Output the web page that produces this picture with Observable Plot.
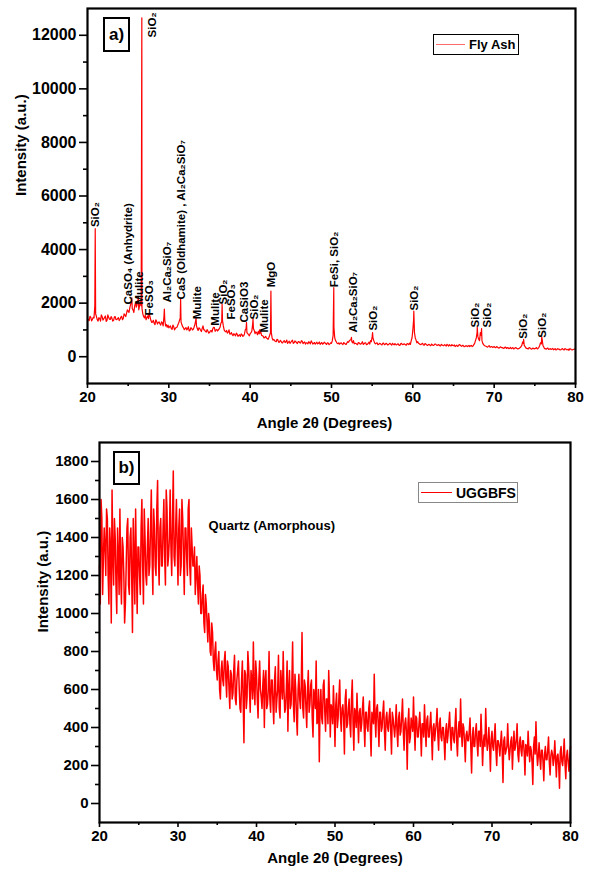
<!DOCTYPE html>
<html><head><meta charset="utf-8">
<script src="https://cdn.jsdelivr.net/npm/d3@7"></script>
<script src="https://cdn.jsdelivr.net/npm/@observablehq/plot@0.6"></script>
<style>
body{margin:0;background:#fff;}
#wrap{position:relative;width:594px;height:878px;font-family:"Liberation Sans",Arial,sans-serif;color:#000;}
.panel{position:absolute;left:0;}
.tag{position:absolute;border:2px solid #000;box-sizing:border-box;font-weight:bold;font-size:17px;display:flex;align-items:center;justify-content:center;background:#fff;}
.leg{position:absolute;box-sizing:border-box;display:flex;align-items:center;font-weight:bold;background:#fff;white-space:nowrap;}
.leg .ln{display:inline-block;height:0;}
</style></head><body><div id="wrap"></div>
<script>
// ---------- Panel a) Fly Ash ----------
// intensities read at 20.0, 20.2, ... 80.0
const flyAshBaseline = [
 1420,1350,1480,1390,1450, 1600,1380,1460,1330,1500, 1410,1520,1360,1470,1390, 1440,1350,1500,1380,1460,
 1400,1510,1430,1560,1620, 1700,1820,2050,1750,1900, 1850,2100,1900,1900,1600, 1450,1380,1520,1600,1350,
 1300,1250,1380,1220,1300, 1180,1260,1500,1150,1100, 1080,1150,1020,1120,1060, 1100,1250,1450,1200,1080,
 1050,1000,1120,980,1060, 1020,1200,1150,980,1050, 940,1150,1000,920,960, 900,980,1040,1090,1000,
 960,1050,1250,1350,1000, 930,880,1000,850,820, 860,780,840,800,760, 820,780,1000,900,820,
 860,950,1050,860,900, 950,880,800,760,720, 700,650,800,900,620, 600,560,630,540,580,
 520,600,560,500,580, 540,620,520,560,490, 560,510,580,530,470, 520,560,480,540,500,
 470,540,500,460,530, 490,520,460,510,480, 500,800,700,550,480, 470,520,450,500,460,
 560,600,650,520,480, 500,450,520,470,560, 480,520,460,540,600, 750,600,480,520,460,
 490,440,510,460,480, 450,500,430,470,490, 440,480,420,500,450, 470,430,480,510,600,
 1000,900,620,560,480, 450,500,430,470,420, 460,410,450,430,470, 420,450,400,440,410,
 430,460,400,420,450, 410,380,430,400,440, 390,420,380,410,400, 380,420,400,500,700,
 750,600,800,500,420, 390,360,410,370,350, 380,340,360,320,370, 340,310,360,330,300,
 350,320,290,340,310, 300,340,420,500,380, 310,290,330,280,320, 300,340,310,420,480,
 420,300,280,320,290, 270,310,280,250,300, 280,260,300,250,290, 260,240,290,250,280,
 300
];
// intensities read at 20.1, 20.3, ... 79.9
const flyAshHalf = [
 1380,1510,1340,1470,1900, 1500,1330,1420,1560,1370, 1470,1320,1560,1400,1500, 1330,1480,1390,1420,1350,
 1480,1380,1600,1500,1750, 1650,1950,1800,1650,2000, 1950,1750,2050,1800,1500, 1550,1460,1420,1480,1280,
 1360,1200,1320,1280,1230, 1300,1150,1380,1200,1180, 1120,1050,1180,1000,1090, 1180,1350,1300,1120,1010,
 1090,1040,960,1080,1000, 1100,1350,1050,1080,990, 1060,1000,940,1010,880, 960,920,1100,950,1020,
 1000,1100,1300,1150,950, 980,920,840,900,790, 820,880,760,820,850, 760,850,1050,860,780,
 900,1200,980,930,820, 850,940,780,700,760, 680,720,900,700,650, 580,650,540,610,520,
 580,530,620,540,500, 580,500,590,530,560, 520,600,490,550,520, 480,530,590,470,530,
 510,480,550,500,470, 540,480,520,450,520, 600,1100,600,500,520, 500,480,530,470,520,
 540,620,560,600,500, 470,530,480,510,460, 520,450,500,470,560, 700,520,500,450,500,
 460,500,450,500,440, 480,460,500,440,460, 470,430,480,460,480, 440,490,450,460,700,
 1400,700,520,500,460, 480,440,490,440,450, 430,470,420,470,440, 440,410,460,420,450,
 400,430,450,400,420, 440,410,390,450,410, 420,370,410,380,420, 410,380,450,600,900,
 650,900,600,450,400, 370,400,350,380,360, 350,380,330,350,340, 320,350,310,340,320,
 300,340,310,330,290, 320,380,550,420,330, 300,340,300,310,290, 320,290,350,520,650,
 360,300,310,270,300, 290,260,300,270,280, 250,290,270,300,260, 280,300,260,270,290
];
const flyAshPeakAngles = [20.95, 25.45, 25.95, 26.25, 26.68, 27.55, 29.45, 31.45, 33.35, 36.55, 39.55, 40.35, 41.15, 42.55, 50.28, 52.45, 55.05, 60.12, 67.92, 68.45, 73.62, 75.85];
const flyAshPeakHeights = [4780, 2200, 2000, 2250, 12650, 1620, 1780, 2150, 1460, 1960, 1280, 1420, 1000, 2450, 2580, 720, 900, 1700, 1100, 1050, 650, 740];

const phaseNames = ["SiO₂","CaSO₄ (Anhydrite)","Mulite","SiO₂","FeSO₃","Al₂Ca₂SiO₇","CaS (Oldhamite) , Al₂Ca₂SiO₇","Mulite","Mulite","SiO₂","FeSO₃","CaSiO3","SiO₂","Mulite","MgO","FeSi, SiO₂","Al₂Ca₂SiO₇","SiO₂","SiO₂","SiO₂","SiO₂","SiO₂","SiO₂"];
const phaseAngles = [20.98, 24.98, 26.31, 27.96, 27.66, 29.87, 31.52, 33.56, 35.74, 36.68, 37.67, 39.30, 40.45, 41.68, 42.59, 50.37, 52.67, 55.20, 60.21, 67.71, 69.15, 73.57, 75.98];
const phaseLabelBase = [4840, 1950, 1950, 11920, 1540, 2025, 2140, 1400, 1160, 1950, 1390, 1275, 1390, 900, 2590, 2590, 900, 975, 1725, 1090, 1090, 675, 712];

const xTicks = [20, 30, 40, 50, 60, 70, 80];
const xMinorTicks = [25, 35, 45, 55, 65, 75];
const yTicksA = [0, 2000, 4000, 6000, 8000, 10000, 12000];
const yMinorA = [1000, 3000, 5000, 7000, 9000, 11000];

// ---------- Panel b) UGGBFS ----------
// intensities read at 20.0, 20.2, ... 80.0
const uggbfs = [
 1250,1600,1100,1450,1200, 1500,1050,1350,1650,1150, 1400,1000,1300,1550,1050, 1350,950,1250,1500,1100,
 1450,900,1300,1550,1000, 1350,1100,1600,1050,1400, 1150,1500,1250,1650,1100, 1450,1200,1700,1150,1500,
 1250,1600,1150,1550,1300, 1650,1200,1750,1250,1600, 1150,1550,1250,1500,1100, 1450,1200,1600,1150,1350,
 1250,1100,1300,1050,1200, 1000,1150,900,1050,850, 950,780,900,700,850, 650,800,550,750,620,
 800,560,720,500,680, 580,780,520,700,600, 480,750,320,680,560, 720,480,650,850,520,
 680,450,750,560,620, 400,700,520,800,480, 650,420,720,550,780, 450,620,800,480,600,
 380,700,520,850,430, 600,360,680,500,900, 450,620,400,700,520, 650,350,560,750,430,
 220,600,420,650,380, 550,700,350,500,620, 300,580,450,650,380, 520,260,600,420,550,
 350,650,280,480,580, 320,500,420,560,300, 480,380,540,250,450, 680,350,520,300,480,
 400,540,280,480,380, 500,260,450,350,520, 300,480,380,550,280, 450,180,500,350,420,
 560,280,450,350,480, 250,420,520,300,460, 350,480,230,420,380, 500,280,450,330,400,
 230,420,360,480,280, 400,320,500,250,430, 550,300,400,220,380, 330,450,160,400,300,
 420,250,380,470,200, 360,500,280,400,170, 380,280,420,200,330, 250,380,110,350,280,
 420,230,330,180,380, 300,420,220,350,250, 330,150,300,380,220, 280,100,350,430,200,
 320,180,280,120,300, 230,350,150,280,200, 330,140,260,80,300, 200,340,130,280,170,
 300
];
// intensities read at 20.1, 20.3, ... 79.9
const uggbfsHalf = [
 1050,1500,1300,1350,1550, 1200,1450,950,1300,1500, 1150,1450,1100,1200,1400, 1200,1050,1450,1150,1400,
 1200,1500,1050,1250,1350, 1200,1450,1250,1550,1200, 1350,1200,1450,1300,1550, 1250,1550,1300,1450,1250,
 1450,1300,1650,1250,1400, 1350,1500,1300,1450,1350, 1450,1200,1600,1300,1450, 1300,1550,1250,1450,1250,
 1350,1200,1150,1250,1000, 1100,950,1100,950,1000, 800,950,750,800,700, 750,600,700,650,750,
 650,750,600,700,550, 700,550,650,750,500, 650,550,700,500,800, 600,700,550,600,750,
 550,650,600,500,700, 650,500,600,550,650, 520,650,480,600,500, 700,550,600,500,750,
 600,500,620,520,680, 450,600,550,620,500, 650,500,600,480,620, 450,600,500,420,600,
 520,450,620,480,550, 420,550,520,420,480, 520,400,560,450,500, 450,550,400,500,420,
 550,420,500,400,450, 480,380,500,420,480, 400,500,380,480,420, 450,500,420,480,380,
 480,380,450,400,460, 380,480,400,420,380, 450,360,460,380,420, 380,420,320,450,380,
 400,460,350,420,380, 420,350,400,440,350, 420,360,400,330,420, 360,420,350,400,330,
 380,320,420,360,400, 340,420,330,380,350, 380,420,320,360,330, 380,300,350,300,380,
 320,380,300,350,320, 300,350,320,300,340, 300,350,280,330,300, 320,280,330,260,300,
 300,280,350,290,280, 340,260,320,280,330, 270,310,250,290,300, 220,300,260,280,250,
 240,280,220,260,230, 280,220,250,260,240, 230,250,200,270,220, 260,210,250,220,240
];
const yTicksB = [0, 200, 400, 600, 800, 1000, 1200, 1400, 1600, 1800];
const yMinorB = [100, 300, 500, 700, 900, 1100, 1300, 1500, 1700];
const annotationText = "Quartz (Amorphous)";
const annotationAngle = 33.9, annotationIntensity = 1463;

// ---------- build ----------
const FONT = "Liberation Sans, Arial, Helvetica, sans-serif";
const ang = (start, i) => +(start + 0.2 * i).toFixed(2);
function merge(full, half) {
  return full.map((v, i) => ({a: ang(20, i), v}))
    .concat(half.map((v, i) => ({a: ang(20.1, i), v})));
}
const faPts = merge(flyAshBaseline, flyAshHalf)
  .concat(flyAshPeakAngles.map((a, i) => ({a, v: flyAshPeakHeights[i]})))
  .sort((p, q) => p.a - q.a);
const faLabels = phaseNames.map((t, i) => ({t, a: phaseAngles[i], v: phaseLabelBase[i]}));
const bPts = merge(uggbfs, uggbfsHalf).sort((p, q) => p.a - q.a);

function axes(yMajor, yMinor, fs) {
  return [
    Plot.axisX({ticks: xTicks, tickSize: 5, tickPadding: 3, fontSize: 15, fontWeight: "bold", label: null, strokeWidth: 1.6, tickFormat: "d"}),
    Plot.axisX({ticks: xMinorTicks, tickSize: 3, tickFormat: () => "", label: null, strokeWidth: 1.6}),
    Plot.axisY({ticks: yMajor, tickSize: 8, tickPadding: 3, fontSize: fs, fontWeight: "bold", label: null, strokeWidth: 1.6, tickFormat: "d"}),
    Plot.axisY({ticks: yMinor, tickSize: 4, tickFormat: () => "", label: null, strokeWidth: 1.6}),
    Plot.frame({stroke: "#000", strokeWidth: 2.2})
  ];
}

const plotA = Plot.plot({
  width: 594, height: 440,
  marginTop: 8, marginBottom: 57, marginLeft: 87, marginRight: 19,
  x: {domain: [20, 80]}, y: {domain: [-1000, 13000]},
  style: {fontFamily: FONT, color: "#000", background: "transparent", overflow: "visible"},
  marks: [
    Plot.line(faPts, {x: "a", y: "v", stroke: "#ff0000", strokeWidth: 1.2}),
    Plot.text(faLabels, {x: "a", y: "v", text: "t", rotate: -90, textAnchor: "start", lineAnchor: "middle", fontSize: 11.5, fontWeight: "bold", fill: "#000"}),
    ...axes(yTicksA, yMinorA, 16),
    Plot.text(["Angle 2θ (Degrees)"], {frameAnchor: "bottom", lineAnchor: "middle", dy: 40, dx: -7, fontSize: 15, fontWeight: "bold", fill: "#000"}),
    Plot.text(["Intensity (a.u.)"], {frameAnchor: "left", lineAnchor: "middle", rotate: -90, dx: -66, fontSize: 15, fontWeight: "bold", fill: "#000"})
  ]
});

const plotB = Plot.plot({
  width: 594, height: 438,
  marginTop: 2, marginBottom: 56, marginLeft: 99, marginRight: 24,
  x: {domain: [20, 80]}, y: {domain: [-100, 1900]},
  style: {fontFamily: FONT, color: "#000", background: "transparent", overflow: "visible"},
  marks: [
    Plot.line(bPts, {x: "a", y: "v", stroke: "#ff0000", strokeWidth: 1.5}),
    Plot.text([annotationText], {x: () => annotationAngle, y: () => annotationIntensity, textAnchor: "start", fontSize: 13, fontWeight: "bold", fill: "#000"}),
    ...axes(yTicksB, yMinorB, 15),
    Plot.text(["Angle 2θ (Degrees)"], {frameAnchor: "bottom", lineAnchor: "middle", dy: 36, fontSize: 15, fontWeight: "bold", fill: "#000"}),
    Plot.text(["Intensity (a.u.)"], {frameAnchor: "left", lineAnchor: "middle", rotate: -90, dx: -56, fontSize: 15, fontWeight: "bold", fill: "#000"})
  ]
});

const wrap = document.getElementById("wrap");
plotA.classList.add("panel"); plotA.style.top = "0px";
plotB.classList.add("panel"); plotB.style.top = "440px";
wrap.appendChild(plotA); wrap.appendChild(plotB);

function tag(txt, l, t, w, h) {
  const d = document.createElement("div"); d.className = "tag"; d.textContent = txt;
  Object.assign(d.style, {left: l + "px", top: t + "px", width: w + "px", height: h + "px"});
  wrap.appendChild(d);
}
function legend(txt, l, t, w, h, border, lineColor, lineW, fs) {
  const d = document.createElement("div"); d.className = "leg";
  Object.assign(d.style, {left: l + "px", top: t + "px", width: w + "px", height: h + "px", border: border, fontSize: fs + "px"});
  const ln = document.createElement("span"); ln.className = "ln";
  Object.assign(ln.style, {width: lineW + "px", borderTop: "1.5px solid " + lineColor, marginLeft: "2px", marginRight: "4px"});
  const s = document.createElement("span"); s.textContent = txt;
  d.appendChild(ln); d.appendChild(s); wrap.appendChild(d);
}
tag("a)", 103, 17, 27, 35);
tag("b)", 113, 451, 27, 34);
legend("Fly Ash", 433, 34, 86, 21, "1.6px solid #000", "#ff6a6a", 29, 13);
legend("UGGBFS", 418, 482, 100, 21, "1.4px solid #888", "#ff0000", 31, 14);
</script></body></html>
